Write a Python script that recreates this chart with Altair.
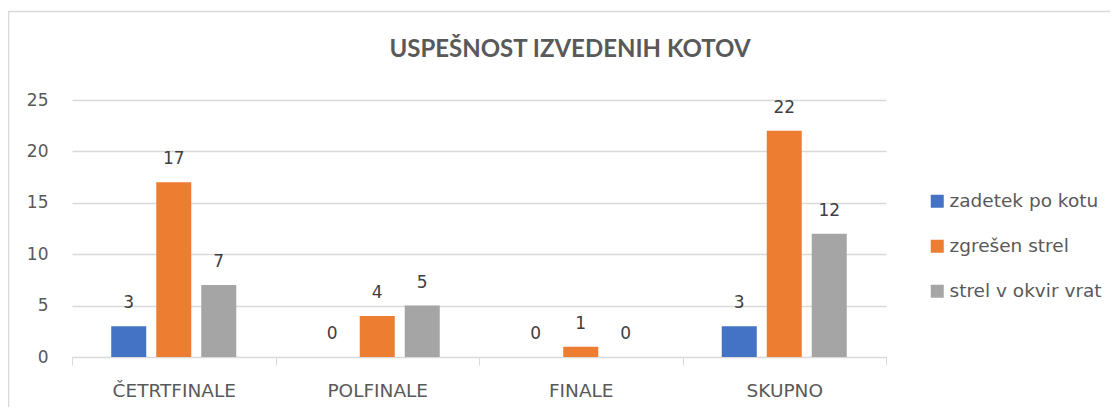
import altair as alt
import pandas as pd

categories = ["ČETRTFINALE", "POLFINALE", "FINALE", "SKUPNO"]
series = ["zadetek po kotu", "zgrešen strel", "strel v okvir vrat"]
zadetek = [3, 0, 0, 3]
zgresen = [17, 4, 1, 22]
okvir = [7, 5, 0, 12]
colors = ["#4472C4", "#ED7D31", "#A5A5A5"]
y_ticks = [0, 5, 10, 15, 20, 25]

rows = []
for s, vals in zip(series, [zadetek, zgresen, okvir]):
    for c, v in zip(categories, vals):
        rows.append({"kategorija": c, "serija": s, "vrednost": v})
df = pd.DataFrame(rows)

FONT = "DejaVu Sans"
TFONT = "Lato"
GREY = "#595959"

base = alt.Chart(df).encode(
    x=alt.X("kategorija:N", sort=categories, title=None,
            scale=alt.Scale(paddingInner=0, paddingOuter=0),
            axis=alt.Axis(labelAngle=0, labelFontSize=18.5, labelColor=GREY, labelFont=FONT,
                          domainColor="#d9d9d9", tickColor="#d9d9d9", tickSize=8,
                          tickBand="extent", labelPadding=16, grid=False)),
    xOffset=alt.XOffset("serija:N", sort=series,
                        scale=alt.Scale(paddingInner=0.222, paddingOuter=0.872)),
    y=alt.Y("vrednost:Q", title=None,
            scale=alt.Scale(domain=[0, 25]),
            axis=alt.Axis(values=y_ticks, labelFontSize=17, labelColor=GREY, labelFont=FONT,
                          domain=False, ticks=False, labelPadding=24,
                          gridColor="#d9d9d9", gridWidth=1.5)),
)

bars = base.mark_bar().encode(
    color=alt.Color("serija:N", sort=series,
                    scale=alt.Scale(domain=series, range=colors),
                    legend=alt.Legend(title=None, orient="none", legendX=856, legendY=92,
                                      symbolType="square", symbolSize=169, symbolStrokeWidth=0,
                                      labelFontSize=18.5, labelColor=GREY, labelFont=FONT,
                                      labelOffset=3, rowPadding=26))
)

labels = base.mark_text(baseline="alphabetic", dy=-18, fontSize=17, font=FONT,
                        color="#404040").encode(text=alt.Text("vrednost:Q"))

border = alt.Chart(pd.DataFrame({"a": [0]})).mark_rect(
    fill=None, stroke="#d9d9d9", strokeWidth=1.5
).encode(x=alt.value(-63.5), x2=alt.value(1060), y=alt.value(-88.5), y2=alt.value(330))

chart = alt.layer(border, bars, labels).properties(
    width=814, height=257,
    autosize=alt.AutoSizeParams(type="none"),
    padding={"left": 64, "top": 92, "right": 224, "bottom": 50},
    title=alt.TitleParams("USPEŠNOST IZVEDENIH KOTOV", font=TFONT, fontSize=24,
                          fontWeight="bold", color=GREY, anchor="middle", dx=91, dy=81,
                          offset=30),
).configure_view(stroke=None)

chart.save("out.html", embed_options={"renderer": "svg", "actions": False})
